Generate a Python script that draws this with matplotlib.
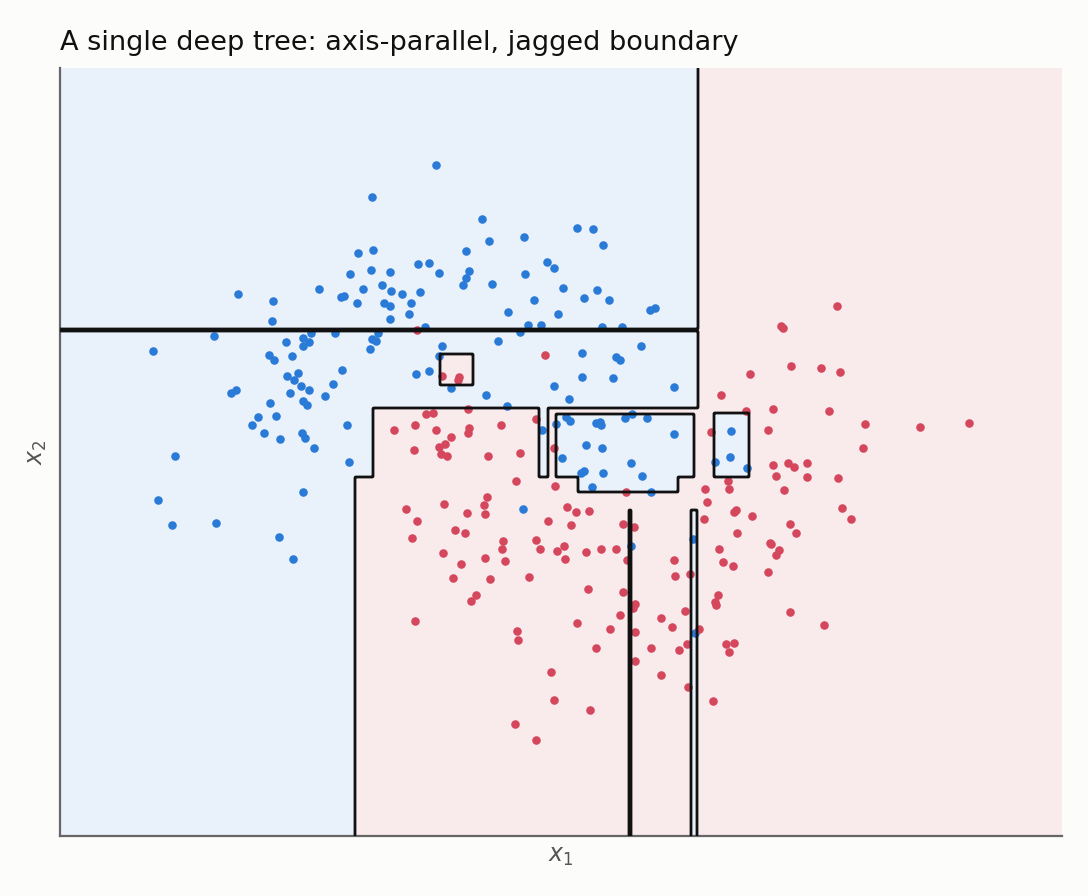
import numpy as np
import matplotlib
matplotlib.use("Agg")
import matplotlib.pyplot as plt

# ---------------- data (arbitrary feature units) ----------------
blue_x = [376, 312, 422, 429, 464, 406, 409, 406, 403, 432, 465, 487, 494, 474, 448, 468, 481, 498, 460, 438,
          313, 298, 311, 330, 290, 358, 369, 379, 259, 303, 322, 331, 342, 360, 281, 284, 297, 324, 330, 351,
          349, 330, 365, 178, 213, 212, 154, 93, 251, 275, 318, 226, 243, 249, 243, 312, 316, 310, 209, 214,
          232, 238, 227, 234, 282, 241, 249, 273, 230, 171, 176, 265, 210, 243, 247, 198, 216, 192, 204, 220,
          242, 245, 254, 287, 289, 115, 382, 379, 356, 369, 391, 426, 447, 494, 482, 496, 243, 98, 112, 156,
          219, 233, 463, 517, 533, 543, 503, 524, 537, 549, 590, 595, 542, 562, 522, 556, 560, 581, 522, 553,
          614, 509, 506, 510, 536, 540, 541, 565, 572, 587, 614, 526, 542, 502, 571, 521, 524, 543, 582, 532,
          591, 671, 670, 655, 687, 571, 633, 635]
blue_y = [671, 639, 617, 595, 599, 585, 565, 558, 551, 552, 562, 574, 568, 536, 524, 511, 511, 522, 504, 495,
          586, 583, 566, 564, 562, 572, 573, 563, 547, 547, 551, 545, 542, 544, 539, 540, 533, 533, 530, 533,
          522, 517, 509, 542, 535, 515, 500, 485, 503, 503, 503, 494, 498, 494, 490, 497, 495, 487, 481, 476,
          480, 463, 460, 456, 466, 450, 446, 452, 443, 443, 446, 440, 433, 435, 431, 419, 420, 411, 403, 397,
          403, 398, 388, 411, 374, 380, 490, 480, 462, 465, 448, 441, 430, 450, 406, 412, 344, 336, 311, 313,
          299, 277, 327, 608, 607, 591, 548, 538, 546, 536, 526, 528, 509, 509, 483, 479, 476, 490, 459, 458,
          449, 437, 419, 415, 413, 414, 411, 418, 422, 418, 402, 391, 388, 378, 373, 363, 365, 363, 360, 349,
          344, 405, 379, 374, 368, 290, 297, 203]

red_x = [357, 485, 382, 399, 398, 366, 373, 408, 476, 334, 355, 376, 391, 409, 408, 441, 379, 385, 381, 387,
         354, 428, 460, 494, 456, 495, 427, 424, 425, 384, 346, 357, 352, 407, 395, 405, 383, 401, 393, 443,
         442, 445, 425, 430, 476, 480, 488, 497, 469, 416, 411, 355, 457, 458, 491, 494, 455, 476, 777, 721,
         723, 690, 731, 761, 780, 661, 686, 713, 769, 805, 860, 909, 651, 708, 803, 713, 728, 734, 747, 716,
         747, 778, 724, 668, 669, 645, 647, 566, 507, 516, 529, 511, 563, 574, 644, 676, 674, 692, 782, 791,
         730, 736, 677, 504, 505, 526, 541, 556, 567, 614, 615, 630, 659, 663, 673, 710, 711, 719, 716, 708,
         528, 563, 575, 573, 560, 517, 550, 575, 601, 612, 625, 639, 627, 619, 591, 536, 575, 658, 655, 656,
         666, 674, 669, 730, 764, 530, 601, 628, 653]
red_y = [506, 481, 460, 459, 456, 422, 423, 427, 417, 406, 411, 406, 399, 408, 403, 411, 389, 392, 382, 380,
         386, 380, 383, 388, 355, 350, 339, 331, 322, 332, 327, 315, 298, 323, 306, 303, 283, 272, 258, 295,
         287, 275, 278, 257, 296, 287, 315, 285, 259, 241, 235, 215, 205, 196, 164, 136, 112, 96, 530, 510,
         508, 462, 470, 468, 464, 441, 425, 427, 425, 412, 409, 413, 404, 406, 388, 371, 373, 369, 373, 360,
         359, 358, 346, 355, 347, 347, 334, 344, 329, 324, 325, 311, 312, 309, 317, 326, 324, 320, 328, 317,
         312, 303, 303, 290, 277, 284, 287, 287, 276, 276, 260, 262, 287, 274, 270, 293, 292, 286, 281, 264,
         247, 244, 232, 228, 221, 213, 207, 204, 218, 209, 225, 207, 192, 186, 188, 188, 175, 241, 234, 231,
         192, 193, 184, 224, 211, 126, 161, 149, 135]

# Tree leaves as (x0, x1, y0, y1); red leaves painted first, blue leaves on top
red_leaves = [
    (638.5, 1002, 0, 768),
    (0, 638.5, 505.5, 507.5),
    (295, 638.5, 0, 359),
    (313, 478.7, 359, 428),
    (488, 638.5, 359, 428),
    (380, 413.3, 451.3, 482),
]
blue_leaves = [
    (495.7, 634, 358.7, 422),
    (518.3, 618.3, 343.7, 358.7),
    (653.7, 689, 358.7, 422.7),
    (631.3, 636.7, 0, 326),
    (569, 571, 0, 326),
]
X_MAX, Y_MAX = 1002, 768

TITLE = "A single deep tree: axis-parallel, jagged boundary"

# ---------------- styling ----------------
BG = "#fcfcfa"
BLUE_BG = "#e9f1fb"
RED_BG = "#f9eaec"
BLUE_PT = "#2a7ad8"
RED_PT = "#d5475c"

fig = plt.figure(figsize=(10.88, 8.96), dpi=100, facecolor=BG)
ax = fig.add_axes([60 / 1088, 60 / 896, 1002 / 1088, 768 / 896])

xs = np.arange(X_MAX) + 0.5
ys = np.arange(Y_MAX) + 0.5
XX, YY = np.meshgrid(xs, ys)
Z = np.zeros_like(XX)
for x0, x1, y0, y1 in red_leaves:
    Z[(XX >= x0) & (XX < x1) & (YY >= y0) & (YY < y1)] = 1
for x0, x1, y0, y1 in blue_leaves:
    Z[(XX >= x0) & (XX < x1) & (YY >= y0) & (YY < y1)] = 0

ax.contourf(XX, YY, Z, levels=[-0.5, 0.5, 1.5],
            colors=[BLUE_BG, RED_BG], zorder=0)
ax.scatter(blue_x, blue_y, s=38, color=BLUE_PT, linewidths=0, zorder=2)
ax.scatter(red_x, red_y, s=38, color=RED_PT, linewidths=0, zorder=2)
cs = ax.contour(XX, YY, Z, levels=[0.5], colors="#111111", linewidths=2.0, zorder=3)
try:
    cs.set_joinstyle("round")
    cs.set_capstyle("round")
except Exception:
    pass

ax.set_xlim(0, X_MAX)
ax.set_ylim(0, Y_MAX)
ax.set_xticks([])
ax.set_yticks([])
for side in ["top", "right"]:
    ax.spines[side].set_visible(False)
for side in ["left", "bottom"]:
    ax.spines[side].set_color("#666666")
    ax.spines[side].set_linewidth(1.6)

ax.set_title(TITLE, loc="left", fontsize=19.5, pad=13, color="#111111")
ax.set_xlabel("$x_1$", fontsize=17, color="#555555", labelpad=6)
ax.set_ylabel("$x_2$", fontsize=17, color="#555555", labelpad=8)

fig.savefig("out.png", dpi=100, facecolor=BG)
